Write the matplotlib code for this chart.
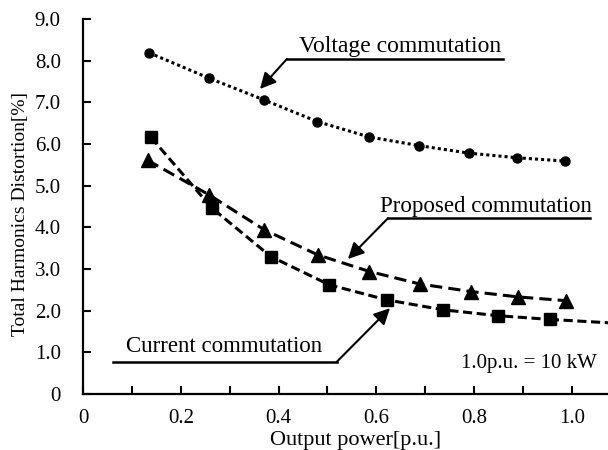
import matplotlib
matplotlib.use("Agg")
import matplotlib.pyplot as plt
from matplotlib.ticker import MultipleLocator, FixedLocator

plt.rcParams['font.family'] = ['Liberation Serif', 'DejaVu Serif']

# measured data
power = [0.135, 0.258, 0.370, 0.479, 0.585, 0.688, 0.790, 0.888, 0.986]
voltage_thd = [8.19, 7.58, 7.06, 6.54, 6.17, 5.96, 5.78, 5.67, 5.59]

proposed_power = [0.132, 0.258, 0.371, 0.480, 0.586, 0.689, 0.793, 0.890, 0.988]
proposed_thd = [5.61, 4.78, 3.94, 3.34, 2.94, 2.64, 2.46, 2.33, 2.24]

current_power = [0.139, 0.264, 0.384, 0.504, 0.621, 0.737, 0.848, 0.955]
current_thd = [6.16, 4.46, 3.30, 2.62, 2.26, 2.02, 1.88, 1.79]
# trend line of current commutation runs on to the right edge
current_tail_power = [0.955, 1.074]
current_tail_thd = [1.79, 1.71]

y_ticks = [0, 1, 2, 3, 4, 5, 6, 7, 8, 9]
y_labels = ["0", "1.0", "2.0", "3.0", "4.0", "5.0", "6.0", "7.0", "8.0", "9.0"]
x_ticks = [0, 0.2, 0.4, 0.6, 0.8, 1.0]
x_labels = ["0", "0.2", "0.4", "0.6", "0.8", "1.0"]

fig = plt.figure(figsize=(6.08, 4.5), dpi=100)
ax = fig.add_axes([83 / 608, 1 - 394 / 450, 1 - 83 / 608, (394 - 19) / 450])

ax.plot(power, voltage_thd, color='black', linestyle=(0, (1, 1)), lw=2.2,
        marker='o', markersize=6.5, clip_on=False)
ax.plot(proposed_power, proposed_thd, color='black', linestyle=(0, (4, 2)), lw=2.2,
        marker='^', markersize=10, clip_on=False)
ax.plot(current_power, current_thd, color='black', linestyle=(0, (3, 1.5)), lw=2.2,
        marker='s', markersize=9, clip_on=False)
ax.plot(current_tail_power, current_tail_thd, color='black', linestyle=(0, (3, 1.5)), lw=2.2,
        clip_on=False)

ax.set_xlim(0, 1.074)
ax.set_ylim(0, 9)
ax.yaxis.set_major_locator(FixedLocator(y_ticks))
ax.set_yticklabels(y_labels)
ax.xaxis.set_major_locator(FixedLocator(x_ticks))
ax.set_xticklabels(x_labels)
ax.xaxis.set_minor_locator(MultipleLocator(0.1))
ax.tick_params(which='both', direction='in', length=6, width=1.5, labelsize=15,
               colors='black')
ax.tick_params(axis='x', which='major', pad=11)
ax.tick_params(axis='y', pad=16)
for side in ['top', 'right']:
    ax.spines[side].set_visible(False)
for side in ['left', 'bottom']:
    ax.spines[side].set_linewidth(1.6)

ax.set_xlabel("Output power[p.u.]", fontsize=16)
ax.xaxis.set_label_coords(0.52, -0.1)
ax.set_ylabel("Total Harmonics Distortion[%]", fontsize=14)
ax.yaxis.set_label_coords(-0.103, 0.48)

# callouts: underline + arrow
arrow = dict(arrowstyle='-|>', color='black', lw=1.5, mutation_scale=24,
             shrinkA=0, shrinkB=0)

ax.plot([0.417, 0.859], [8.04, 8.04], color='black', lw=1.8)
ax.annotate('', xy=(0.362, 7.32), xytext=(0.417, 8.04), arrowprops=arrow)
ax.text(0.648, 8.21, "Voltage commutation", fontsize=17, ha='center', va='baseline')

ax.plot([0.624, 1.037], [4.22, 4.22], color='black', lw=1.8, clip_on=False)
ax.annotate('', xy=(0.542, 3.24), xytext=(0.624, 4.22), arrowprops=arrow)
ax.text(0.824, 4.37, "Proposed commutation", fontsize=16.5, ha='center', va='baseline')

ax.plot([0.061, 0.519], [0.77, 0.77], color='black', lw=1.8)
ax.annotate('', xy=(0.628, 2.06), xytext=(0.519, 0.77), arrowprops=arrow)
ax.text(0.288, 1.01, "Current commutation", fontsize=16.5, ha='center', va='baseline')

ax.text(0.912, 0.62, "1.0p.u. = 10 kW", fontsize=15, ha='center', va='baseline')

fig.savefig("out.png", dpi=100)
